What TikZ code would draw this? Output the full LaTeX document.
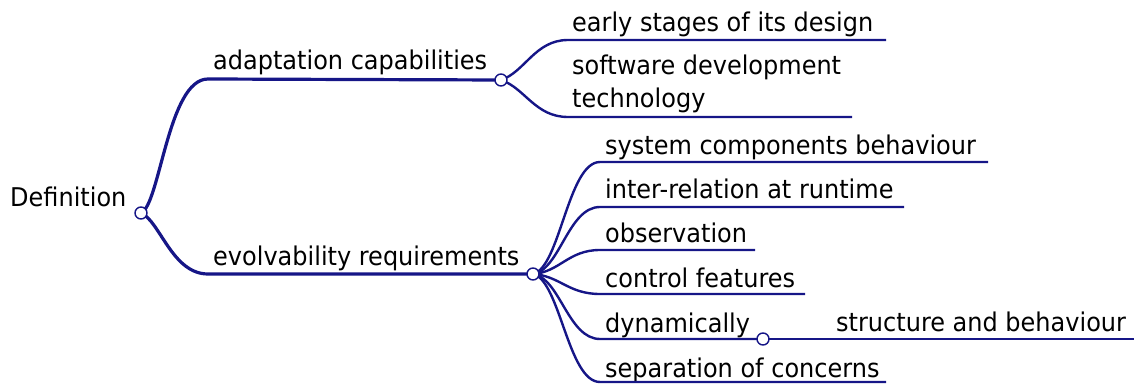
\documentclass[tikz,border=0pt]{standalone}
\usepackage{fontspec}
\setmainfont{DejaVu Sans}[FakeStretch=0.93]
\definecolor{navy}{RGB}{22,22,135}
\begin{document}
\begin{tikzpicture}[x=1pt,y=-1pt,
  branch/.style={draw=navy,line width=3.2pt},
  leafline/.style={draw=navy,line width=2.4pt},
  thinline/.style={draw=navy,line width=1.8pt},
  hub/.style={circle,draw=navy,fill=white,line width=1.4pt,minimum size=12pt,inner sep=0pt},
  lbl/.style={anchor=base west,inner sep=0pt,font=\fontsize{25.8}{33}\selectfont,text=black}]
\useasboundingbox (0,0) rectangle (1136,385);
% hubs (positions)
\coordinate (h0) at (141,213);
\coordinate (h1) at (501,80);
\coordinate (h2) at (533,274);
\coordinate (h3) at (763,339);
% labels
\node[lbl] (def) at (10,207) {Definition};
\node[lbl] (adapt) at (213,70) {adaptation capabilities};
\node[lbl] (evol) at (213,265) {evolvability requirements};
\node[lbl] (early) at (572,32) {early stages of its design};
\node[lbl,align=left] (soft) at (572,108) {software development\\technology};
\node[lbl] (sys) at (605,155) {system components behaviour};
\node[lbl] (inter) at (605,199) {inter-relation at runtime};
\node[lbl] (obs) at (605,242) {observation};
\node[lbl] (ctrl) at (605,287) {control features};
\node[lbl] (dyn) at (605,332) {dynamically};
\node[lbl] (struct) at (836,331) {structure and behaviour};
\node[lbl] (sep) at (605,377) {separation of concerns};
% line coordinates
\coordinate (a0) at (208,79);
\coordinate (e0) at (208,274);
\coordinate (a1) at (568,40);  \coordinate (a1e) at (886,40);
\coordinate (a2) at (568,117); \coordinate (a2e) at (852,117);
\coordinate (b1) at (600,162); \coordinate (b1e) at (988,162);
\coordinate (b2) at (600,207); \coordinate (b2e) at (904,207);
\coordinate (b3) at (600,250); \coordinate (b3e) at (755,250);
\coordinate (b4) at (600,294); \coordinate (b4e) at (805,294);
\coordinate (b5) at (600,339);
\coordinate (b5e) at (1134,339);
\coordinate (b6) at (600,382); \coordinate (b6e) at (886,382);
% main branches
\path[branch] (h0) .. controls (160,205) and (168,79) .. (a0) -- (h1);
\path[branch] (h0) .. controls (160,221) and (172,274) .. (e0) -- (h2);
% adaptation leaves
\path[leafline] (h1) .. controls (525,72) and (535,40) .. (a1) -- (a1e);
\path[leafline] (h1) .. controls (525,88) and (535,117) .. (a2) -- (a2e);
% evolvability leaves
\path[leafline] (h2) .. controls (560,268) and (568,162) .. (b1) -- (b1e);
\path[leafline] (h2) .. controls (560,270) and (568,207) .. (b2) -- (b2e);
\path[leafline] (h2) .. controls (560,272) and (568,250) .. (b3) -- (b3e);
\path[leafline] (h2) .. controls (560,276) and (568,294) .. (b4) -- (b4e);
\path[leafline] (h2) .. controls (560,278) and (568,339) .. (b5) -- (h3);
\path[leafline] (h2) .. controls (560,280) and (568,382) .. (b6) -- (b6e);
\path[thinline] (h3) -- (b5e);
% hub circles
\node[hub] (n0) at (h0) {};
\node[hub] (n1) at (h1) {};
\node[hub] (n2) at (h2) {};
\node[hub] (n3) at (h3) {};
\end{tikzpicture}
\end{document}
